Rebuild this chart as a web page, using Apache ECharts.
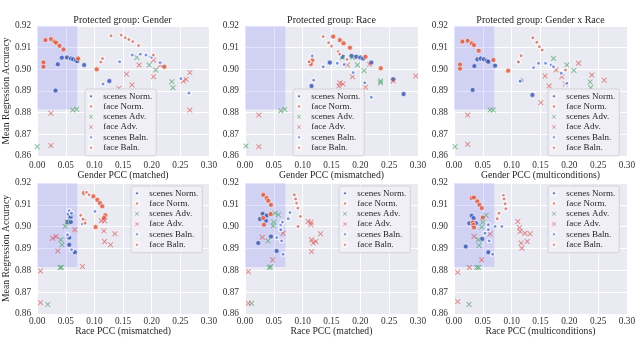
<!DOCTYPE html>
<html><head><meta charset="utf-8">
<script src="https://cdn.jsdelivr.net/npm/echarts@6/dist/echarts.min.js"></script>
<style>html,body{margin:0;padding:0;background:#fff}#c{width:640px;height:338px}</style>
</head><body><div id="c"></div>
<script>
// ---- data (x = PCC, y = mean regression accuracy) ----
const seriesNames = ['scenes Norm.','face Norm.','scenes Adv.','face Adv.','scenes Baln.','face Baln.'];
const panelTitles = ['Protected group: Gender','Protected group: Race','Protected group: Gender x Race'];
const xAxisNames = ['Gender PCC (matched)','Gender PCC (mismatched)','Gender PCC (multiconditions)',
                    'Race PCC (mismatched)','Race PCC (matched)','Race PCC (multiconditions)'];
const yAxisName = 'Mean Regression Accuracy';
const shadeBox = [[0, 0.8815], [0.07, 0.92]];

// Panel 1: Gender PCC (matched)
const p1_scenesNorm = [[0.032,0.8902],[0.036,0.9023],[0.043,0.9054],[0.052,0.9055],[0.059,0.905],[0.063,0.9046],[0.0675,0.9042],[0.070,0.9038],[0.082,0.902],[0.126,0.8946]];
const p1_faceNorm = [[0.011,0.9032],[0.011,0.9012],[0.0144,0.9135],[0.024,0.914],[0.030,0.9128],[0.033,0.9123],[0.039,0.9109],[0.046,0.9092],[0.0715,0.905],[0.104,0.9],[0.222,0.9012]];
const p1_scenesAdv = [[0.0,0.8643],[0.062,0.8812],[0.069,0.8815],[0.174,0.9055],[0.1956,0.902],[0.207,0.8997],[0.235,0.8943],[0.237,0.8915]];
const p1_faceAdv = [[0.024,0.8797],[0.024,0.8648],[0.1425,0.8912],[0.156,0.8978],[0.1656,0.8928],[0.178,0.902],[0.203,0.9043],[0.203,0.8966],[0.215,0.902],[0.255,0.8946],[0.26,0.8954],[0.2666,0.8985],[0.2666,0.8812]];
const p1_scenesBaln = [[0.115,0.8932],[0.144,0.9035],[0.166,0.9066],[0.18,0.907],[0.19,0.9066],[0.197,0.9058],[0.2,0.9055],[0.2146,0.9031],[0.251,0.8957],[0.265,0.889]];
const p1_faceBaln = [[0.111,0.9034],[0.114,0.905],[0.129,0.9155],[0.1466,0.9158],[0.154,0.9146],[0.16,0.9138],[0.167,0.9128],[0.177,0.911],[0.203,0.9066]];

// Panel 2: Gender PCC (mismatched)
const p2_scenesNorm = [[0.1154,0.8923],[0.147,0.9031],[0.169,0.9058],[0.1846,0.9062],[0.193,0.9058],[0.2,0.9055],[0.205,0.905],[0.219,0.9031],[0.257,0.8954],[0.275,0.8886]];
const p2_faceNorm = [[0.1137,0.9032],[0.1166,0.9043],[0.114,0.9025],[0.153,0.9151],[0.1645,0.9135],[0.171,0.912],[0.182,0.91],[0.209,0.9058],[0.2354,0.9005]];
const p2_scenesAdv = [[0.0017,0.8646],[0.062,0.8809],[0.069,0.8815],[0.169,0.9055],[0.186,0.9055],[0.195,0.902],[0.2066,0.8994],[0.235,0.8938],[0.235,0.8946]];
const p2_faceAdv = [[0.024,0.8789],[0.024,0.8643],[0.1645,0.8938],[0.163,0.8923],[0.17,0.8932],[0.1777,0.902],[0.1864,0.8966],[0.209,0.8917],[0.216,0.9023],[0.257,0.8946],[0.296,0.8969]];
const p2_scenesBaln = [[0.1166,0.9062],[0.119,0.895],[0.1356,0.9012],[0.16,0.9028],[0.172,0.9022],[0.1875,0.8985],[0.2077,0.8938],[0.219,0.8871]];
const p2_faceBaln = [[0.111,0.9035],[0.1356,0.9151],[0.145,0.9123],[0.15,0.9108],[0.1616,0.9082],[0.164,0.907],[0.177,0.9046]];

// Panel 3: Gender PCC (multiconditions)
const p3_scenesNorm = [[0.0324,0.8905],[0.0353,0.9015],[0.0405,0.9046],[0.0463,0.905],[0.052,0.9046],[0.057,0.904],[0.0596,0.9035],[0.0712,0.9017],[0.1164,0.8948],[0.136,0.8882]];
const p3_faceNorm = [[0.0104,0.9022],[0.0104,0.9003],[0.0145,0.9128],[0.0237,0.9132],[0.0307,0.912],[0.0347,0.9112],[0.0428,0.9086],[0.0683,0.9043],[0.094,0.8994]];
const p3_scenesAdv = [[0.0017,0.8643],[0.0625,0.8812],[0.068,0.8812],[0.1725,0.905],[0.1957,0.902],[0.208,0.8995],[0.236,0.8942],[0.237,0.8915]];
const p3_faceAdv = [[0.0237,0.8789],[0.0237,0.8654],[0.1505,0.8846],[0.158,0.8969],[0.165,0.8923],[0.177,0.8997],[0.187,0.8966],[0.193,0.8932],[0.216,0.9028],[0.239,0.8974],[0.2606,0.895]];
const p3_scenesBaln = [[0.1106,0.9035],[0.1147,0.8945],[0.138,0.9008],[0.1465,0.9028],[0.1587,0.9028],[0.1685,0.902],[0.1725,0.9012],[0.186,0.8982],[0.1957,0.8935]];
const p3_faceBaln = [[0.1118,0.9034],[0.1164,0.9063],[0.1367,0.9146],[0.1436,0.9125],[0.148,0.9105],[0.153,0.9089],[0.1934,0.8997]];

// Panel 4: Race PCC (mismatched)
const p4_scenesNorm = [[0.053,0.9021],[0.056,0.9058],[0.0577,0.9042],[0.0588,0.9021],[0.0588,0.9047],[0.0606,0.9058],[0.056,0.895],[0.056,0.8917],[0.0658,0.8883]];
const p4_faceNorm = [[0.082,0.9154],[0.098,0.9139],[0.105,0.9123],[0.1096,0.9108],[0.1137,0.9093],[0.119,0.9052],[0.1166,0.904],[0.102,0.8998],[0.082,0.9027]];
const p4_scenesAdv = [[0.0185,0.8644],[0.04,0.8813],[0.042,0.8813],[0.049,0.9001],[0.052,0.9021],[0.0415,0.894],[0.0433,0.8917]];
const p4_faceAdv = [[0.0058,0.8797],[0.0058,0.8652],[0.027,0.8947],[0.033,0.8955],[0.036,0.8889],[0.0658,0.8986],[0.079,0.8817],[0.1177,0.9027],[0.112,0.9027],[0.1166,0.8981],[0.1177,0.8932],[0.128,0.8917],[0.1356,0.8967]];
const p4_scenesBaln = [[0.056,0.9073],[0.06,0.9062],[0.053,0.8963],[0.06,0.8894],[0.101,0.907],[0.079,0.9012]];
const p4_faceBaln = [[0.0865,0.9157],[0.0906,0.9146],[0.076,0.9052],[0.0837,0.9016],[0.08,0.9035]];

// Panel 5: Race PCC (matched)
const p5_scenesNorm = [[0.023,0.8925],[0.026,0.9035],[0.0306,0.9059],[0.0375,0.9051],[0.0364,0.9027],[0.045,0.8955],[0.055,0.8889]];
const p5_faceNorm = [[0.0317,0.9146],[0.0375,0.9131],[0.0404,0.9119],[0.045,0.91],[0.0444,0.9058],[0.0317,0.904],[0.0329,0.9009]];
const p5_scenesAdv = [[0.0115,0.8649],[0.042,0.8813],[0.0444,0.8816],[0.04,0.8935],[0.049,0.9004],[0.05,0.9021],[0.052,0.9062],[0.058,0.9055]];
const p5_faceAdv = [[0.0058,0.8794],[0.0058,0.8649],[0.03,0.8951],[0.048,0.8848],[0.066,0.897],[0.1096,0.9024],[0.1143,0.902],[0.1143,0.9009],[0.1154,0.894],[0.1183,0.8925],[0.123,0.8932],[0.1154,0.8886],[0.131,0.8967]];
const p5_scenesBaln = [[0.055,0.895],[0.062,0.9009],[0.065,0.9021],[0.062,0.8986],[0.0635,0.8935],[0.066,0.8874],[0.078,0.9065],[0.075,0.9036]];
const p5_faceBaln = [[0.0854,0.9146],[0.0877,0.9127],[0.0894,0.9108],[0.0917,0.9085],[0.096,0.9047],[0.092,0.9001]];

// Panel 6: Race PCC (multiconditions)
const p6_scenesNorm = [[0.0203,0.8909],[0.0266,0.9016],[0.0307,0.905],[0.034,0.9039],[0.038,0.9016],[0.049,0.8944],[0.0596,0.8883]];
const p6_faceNorm = [[0.0307,0.9131],[0.0347,0.9134],[0.0405,0.9116],[0.044,0.91],[0.048,0.9085],[0.0498,0.9042],[0.0324,0.9019],[0.0336,0.9008],[0.0347,0.8996]];
const p6_scenesAdv = [[0.026,0.8644],[0.0394,0.8813],[0.0428,0.8813],[0.0556,0.9052],[0.05,0.9021],[0.048,0.8998],[0.0423,0.894],[0.0434,0.8914]];
const p6_faceAdv = [[0.0064,0.8791],[0.0064,0.8657],[0.0266,0.8813],[0.0347,0.8955],[0.048,0.8848],[0.0625,0.8967],[0.1106,0.9024],[0.1135,0.8996],[0.1147,0.8978],[0.1164,0.8925],[0.1176,0.8901],[0.123,0.897],[0.127,0.8932],[0.132,0.8967]];
const p6_scenesBaln = [[0.0538,0.897],[0.0596,0.9009],[0.0596,0.8986],[0.061,0.8935],[0.067,0.8874],[0.0712,0.9001],[0.083,0.9001]];
const p6_faceBaln = [[0.0857,0.9143],[0.0869,0.9127],[0.0886,0.9105],[0.09,0.9082],[0.078,0.9062],[0.075,0.9036]];

const panels = [
  [p1_scenesNorm,p1_faceNorm,p1_scenesAdv,p1_faceAdv,p1_scenesBaln,p1_faceBaln],
  [p2_scenesNorm,p2_faceNorm,p2_scenesAdv,p2_faceAdv,p2_scenesBaln,p2_faceBaln],
  [p3_scenesNorm,p3_faceNorm,p3_scenesAdv,p3_faceAdv,p3_scenesBaln,p3_faceBaln],
  [p4_scenesNorm,p4_faceNorm,p4_scenesAdv,p4_faceAdv,p4_scenesBaln,p4_faceBaln],
  [p5_scenesNorm,p5_faceNorm,p5_scenesAdv,p5_faceAdv,p5_scenesBaln,p5_faceBaln],
  [p6_scenesNorm,p6_faceNorm,p6_scenesAdv,p6_faceAdv,p6_scenesBaln,p6_faceBaln]
];

// ---- styling / layout ----
const FONT = 'Liberation Serif';
const CROSS = 'path://M0,1.2L1.2,0L5,3.8L8.8,0L10,1.2L6.2,5L10,8.8L8.8,10L5,6.2L1.2,10L0,8.8L3.8,5Z';
const styles = [
  {symbol:'circle', size:5, itemStyle:{color:'#3352b0', borderColor:'#fff', borderWidth:0.7}},
  {symbol:'circle', size:5, itemStyle:{color:'#d9553a', borderColor:'#fff', borderWidth:0.7}},
  {symbol:CROSS, size:5.5, itemStyle:{color:'rgba(70,160,100,0.85)'}},
  {symbol:CROSS, size:5.5, itemStyle:{color:'rgba(215,85,85,0.85)'}},
  {symbol:'circle', size:4, itemStyle:{color:'#5a78d0', borderColor:'#fff', borderWidth:1.3}},
  {symbol:'circle', size:4, itemStyle:{color:'#d06a60', borderColor:'#fff', borderWidth:1.3}}
];
const colLeft = [36, 245, 454];
const rowTop = [26, 183];
const rowH = [130, 131];
const W = 173;
const legendPos = [[85,89],[293,89],[548,89],[131,186],[339,186],[548,186]];

const grid = [], xAxis = [], yAxis = [], series = [], legend = [];
for (let p = 0; p < 6; p++) {
  const r = Math.floor(p/3), c = p % 3;
  grid.push({left: colLeft[c], top: rowTop[r], width: W, height: rowH[r], show: true,
    backgroundColor: '#eaeaf2', borderWidth: 0});
  xAxis.push({type:'value', gridIndex:p, min:0, max:0.3, interval:0.05,
    name: xAxisNames[p], nameLocation:'middle', nameGap: r===0 ? 13 : 12,
    nameTextStyle:{fontFamily:FONT, fontSize:9.7, color:'#262626'},
    axisLine:{show:false}, axisTick:{show:false},
    axisLabel:{fontFamily:FONT, fontSize:9.3, color:'#333', margin: r===0 ? 5 : 3, formatter: v => v.toFixed(2)},
    splitLine:{show:true, lineStyle:{color:'#ffffff', width:1}}});
  yAxis.push({type:'value', gridIndex:p, min:0.86, max:0.92, interval:0.01,
    name: c===0 ? yAxisName : '', nameLocation:'middle', nameGap: 20, nameRotate: 90,
    nameTextStyle:{fontFamily:FONT, fontSize:9.7, color:'#262626'},
    axisLine:{show:false}, axisTick:{show:false},
    axisLabel:{fontFamily:FONT, fontSize:9.3, color:'#333', margin:6, formatter: v => v.toFixed(2)},
    splitLine:{show:true, lineStyle:{color:'#ffffff', width:1}}});
  // shaded region
  series.push({type:'scatter', name:'shade'+p, xAxisIndex:p, yAxisIndex:p, data:[], silent:true,
    markArea:{silent:true, itemStyle:{color:'rgba(100,100,255,0.18)'},
      data:[[{coord:shadeBox[0]},{coord:shadeBox[1]}]]}});
  for (let s = 0; s < 6; s++) {
    series.push({type:'scatter', name: seriesNames[s], xAxisIndex:p, yAxisIndex:p,
      symbol: styles[s].symbol, symbolSize: styles[s].size, itemStyle: styles[s].itemStyle,
      data: panels[p][s], animation:false});
  }
  legend.push({data: seriesNames, orient:'vertical', left: legendPos[p][0], top: legendPos[p][1],
    itemWidth: 14.6, itemHeight: 4, itemGap: 0, padding:[2,4,3,3],
    backgroundColor:'rgba(240,240,245,0.9)', borderColor:'#d2d2d8', borderWidth:1, borderRadius:2,
    textStyle:{fontFamily:FONT, fontSize:9, color:'#262626', lineHeight:10.3},
    selectedMode:false});
}
const graphic = panelTitles.map((t, c) => ({type:'text', x: colLeft[c] + W/2, y: 15,
  style:{text:t, font:'10px "' + FONT + '"', fill:'#262626', textAlign:'center', textVerticalAlign:'top'}}));

const chart = echarts.init(document.getElementById('c'), null, {renderer:'canvas'});
chart.setOption({animation:false, backgroundColor:'#ffffff', grid, xAxis, yAxis, series, legend, graphic});
</script></body></html>
